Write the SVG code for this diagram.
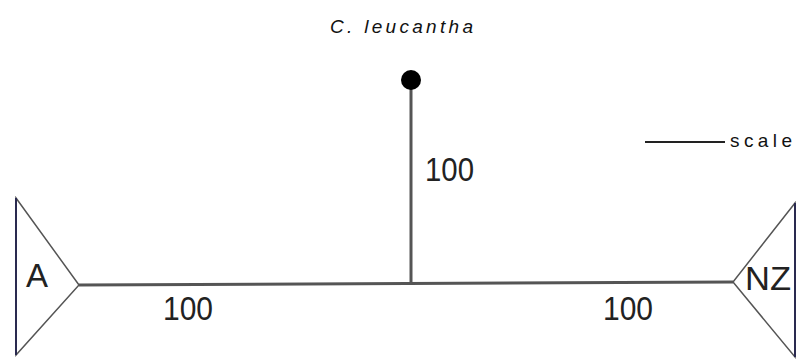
<svg xmlns="http://www.w3.org/2000/svg" width="798" height="360" viewBox="0 0 798 360">
<style>
.ln{stroke:#555;stroke-width:3;fill:none}
.tri{stroke:#555;stroke-width:1.5;fill:#fff}
.side{stroke:#2a2a50;stroke-width:2}
.t{font-family:"Liberation Sans",Arial,sans-serif;font-size:33px;fill:#222}
.s{font-family:"Liberation Sans",Arial,sans-serif;font-size:19px;fill:#111}
</style>
<rect width="798" height="360" fill="#fff"/>
<g id="connectors">
<line class="ln" x1="79" y1="285" x2="733" y2="282"/>
<line class="ln" x1="411" y1="82" x2="411" y2="284"/>
<line x1="645" y1="142" x2="725" y2="142" stroke="#222" stroke-width="2"/>
</g>
<g id="A">
<polygon class="tri" points="16,198 79,285 16,355"/>
<line class="side" x1="16" y1="198" x2="16" y2="355"/>
<text class="t" x="26" y="287">A</text>
</g>
<g id="NZ">
<polygon class="tri" points="795,203 733,282 795,357"/>
<line class="side" x1="795" y1="203" x2="795" y2="357"/>
<text class="t" x="745" y="290" textLength="46" lengthAdjust="spacingAndGlyphs">NZ</text>
</g>
<g id="leucantha">
<circle cx="411" cy="80" r="10" fill="#000"/>
<text class="s" x="330" y="33" font-style="italic" textLength="143">C. leucantha</text>
</g>
<g id="labels">
<text class="t" x="425" y="181" textLength="49" lengthAdjust="spacingAndGlyphs">100</text>
<text class="t" x="163" y="320" textLength="50" lengthAdjust="spacingAndGlyphs">100</text>
<text class="t" x="603" y="320" textLength="50" lengthAdjust="spacingAndGlyphs">100</text>
<text class="s" x="730" y="147" textLength="62">scale</text>
</g>
</svg>
